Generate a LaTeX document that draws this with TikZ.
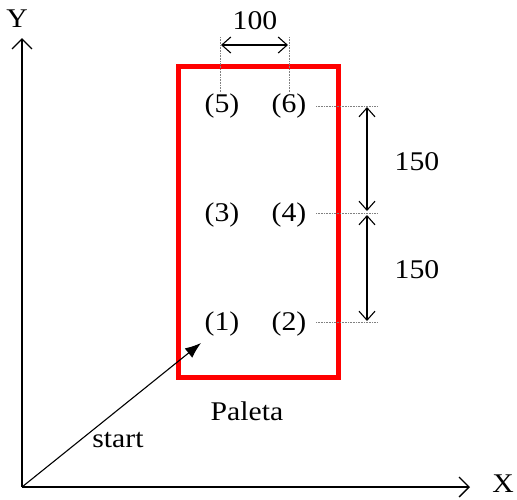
\documentclass[tikz,border=0pt]{standalone}
\usepackage{fontspec}
\setmainfont{Liberation Serif}[FakeStretch=1.1]
\usetikzlibrary{arrows.meta}
\begin{document}
\begin{tikzpicture}[x=1pt,y=-1pt,
  lbl/.style={font=\fontsize{27}{30}\selectfont, inner sep=0pt},
  axis/.style={line width=1.3pt, -{Straight Barb[length=10pt,width=20pt,line width=1.3pt]}},
  dim/.style={line width=1.1pt, {Straight Barb[length=9pt,width=16pt,line width=1.1pt]}-{Straight Barb[length=9pt,width=16pt,line width=1.1pt]}},
  guide/.style={densely dotted, line width=0.6pt, gray},
  pallet/.style={draw=red, line width=5pt},
  startarrow/.style={line width=1.1pt, -{Latex[length=16pt,width=12pt]}}]
\useasboundingbox (0,0) rectangle (517,499);
% axes
\coordinate (O) at (22,487);
\coordinate (Yend) at (22,38);
\coordinate (Xend) at (470,487);
\draw[axis] (O) -- (Yend);
\draw[axis] (O) -- (Xend);
\node[lbl] (Ylbl) at (17,19) {Y};
\node[lbl] (Xlbl) at (503,484) {X};
% pallet
\node[pallet, minimum width=160pt, minimum height=311pt, inner sep=0pt] (pal) at (258,221.5) {};
\node[lbl] (p5) at (222,106) {(5)};
\node[lbl] (p6) at (289,106) {(6)};
\node[lbl] (p3) at (222,215) {(3)};
\node[lbl] (p4) at (289,215) {(4)};
\node[lbl] (p1) at (222,324) {(1)};
\node[lbl] (p2) at (289,324) {(2)};
\node[lbl] (paleta) at (247,411) {Paleta};
% start arrow
\coordinate (s1) at (201,343);
\draw[startarrow] (O) -- (s1);
\node[lbl] (start) at (118,440) {start};
% horizontal dimension 100
\coordinate (g5t) at (220,37);
\coordinate (g5b) at (220,93);
\coordinate (g6t) at (289,37);
\coordinate (g6b) at (289,93);
\draw[guide] (g5t) -- (g5b);
\draw[guide] (g6t) -- (g6b);
\coordinate (d1) at (221,45);
\coordinate (d2) at (288,45);
\draw[dim] (d1) -- (d2);
\node[lbl] (l100) at (255,21) {100};
% vertical dimensions 150
\coordinate (h6a) at (316,106);
\coordinate (h6b) at (378,106);
\coordinate (h4a) at (316,213);
\coordinate (h4b) at (378,213);
\coordinate (h2a) at (316,322);
\coordinate (h2b) at (378,322);
\draw[guide] (h6a) -- (h6b);
\draw[guide] (h4a) -- (h4b);
\draw[guide] (h2a) -- (h2b);
\coordinate (v1) at (367,107);
\coordinate (v2) at (367,211);
\coordinate (v3) at (367,215);
\coordinate (v4) at (367,321);
\draw[dim] (v1) -- (v2);
\draw[dim] (v3) -- (v4);
\node[lbl] (l150a) at (417,162) {150};
\node[lbl] (l150b) at (417,270) {150};
\end{tikzpicture}
\end{document}
